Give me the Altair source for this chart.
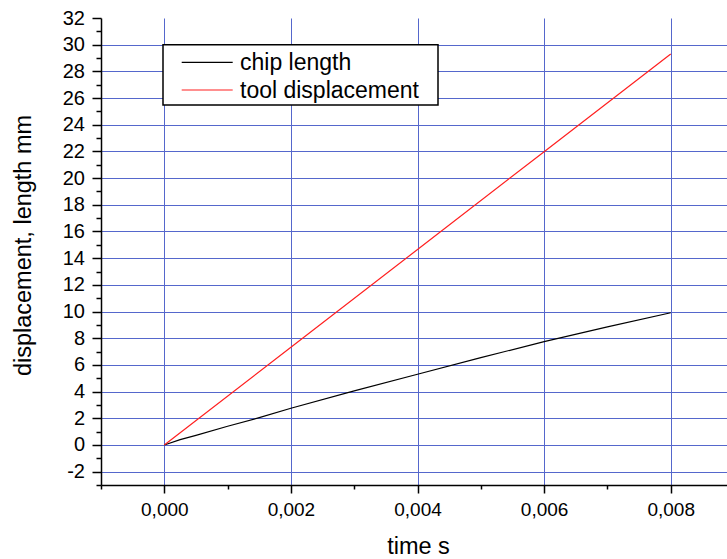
import altair as alt
import pandas as pd

# ---- data ----
chip_time = [0.0, 0.00025, 0.0005, 0.001, 0.0015, 0.002, 0.003, 0.004, 0.005, 0.006, 0.007, 0.008]
chip_len = [0.0, 0.4, 0.72, 1.4, 2.05, 2.75, 4.05, 5.3, 6.55, 7.74, 8.85, 9.91]
tool_time = [0.0, 0.002, 0.004, 0.006, 0.008]
tool_disp = [0.0, 7.33, 14.65, 21.98, 29.3]

x_major = [0.0, 0.002, 0.004, 0.006, 0.008]
x_minor = [-0.001, 0.001, 0.003, 0.005, 0.007]
y_major = list(range(-2, 33, 2))
y_minor = list(range(-3, 32, 2))

series_names = ["chip length", "tool displacement"]
series_colors = ["#000000", "#ff2020"]

FONT = "Liberation Sans"
GRID = "#5567cc"

x_scale = alt.Scale(domain=[-0.001, 0.008889], nice=False, zero=False)
y_scale = alt.Scale(domain=[-3, 32], nice=False, zero=False)

chip_df = pd.DataFrame({"t": chip_time, "v": chip_len})
tool_df = pd.DataFrame({"t": tool_time, "v": tool_disp})

x_axis_major = alt.Axis(
    orient="bottom", values=x_major,
    labelExpr="replace(format(datum.value, '.3f'), '.', ',')",
    tickSize=8, tickWidth=1.5, tickColor="black",
    domainColor="black", domainWidth=1.5,
    grid=True, gridColor=GRID, gridWidth=1,
    labelFontSize=19, labelFont=FONT, labelColor="black",
    labelBaseline="alphabetic", labelPadding=22.5, labelFlush=False,
    title="time s", titleFontSize=23.5, titleFont=FONT, titleFontWeight="normal",
    titleColor="black", titleX=317, titleY=68, titleBaseline="alphabetic",
    titleAlign="center",
)
y_axis_major = alt.Axis(
    orient="left", values=y_major,
    labelExpr="replace(format(datum.value, 'd'), '\u2212', '-')",
    tickSize=9, tickWidth=1.5, tickColor="black",
    domainColor="black", domainWidth=1.5,
    grid=True, gridColor=GRID, gridWidth=1,
    gridOpacity={"condition": {"test": "datum.value >= 32", "value": 0}, "value": 1},
    labelFontSize=20, labelFont=FONT, labelColor="black", labelPadding=7.5,
    labelFlush=False,
    title="displacement, length mm", titleFontSize=23.5, titleFont=FONT,
    titleFontWeight="normal", titleColor="black", titleAngle=270,
    titleX=-71, titleY=227, titleBaseline="alphabetic", titleAlign="center",
)
x_axis_minor = alt.Axis(
    orient="bottom", values=x_minor, labels=False, tickSize=4, tickWidth=1.5,
    tickColor="black", domain=False, grid=False, title="",
)
y_axis_minor = alt.Axis(
    orient="left", values=y_minor, labels=False, tickSize=5, tickWidth=1.5,
    tickColor="black", domain=False, grid=False, title="",
)

chip_line = alt.Chart(chip_df).mark_line(color=series_colors[0], strokeWidth=1.2).encode(
    x=alt.X("t:Q", scale=x_scale, axis=x_axis_major),
    y=alt.Y("v:Q", scale=y_scale, axis=y_axis_major),
)
tool_line = alt.Chart(tool_df).mark_line(color=series_colors[1], strokeWidth=1.2).encode(
    x=alt.X("t:Q", scale=x_scale, axis=x_axis_minor),
    y=alt.Y("v:Q", scale=y_scale, axis=y_axis_minor),
)

# ---- legend box (drawn in pixel space) ----
one = alt.Data(values=[{"k": 0}])
legend_box = alt.Chart(one).mark_rect(fill="white", stroke="black", strokeWidth=1.5).encode(
    x=alt.value(62), x2=alt.value(337), y=alt.value(26.7), y2=alt.value(87),
)
legend_layers = [legend_box]
row_y = [44.3, 72.0]
for name, col, ry in zip(series_names, series_colors, row_y):
    legend_layers.append(
        alt.Chart(one).mark_rule(color=col, strokeWidth=1.2).encode(
            x=alt.value(80.7), x2=alt.value(131.7), y=alt.value(ry)
        )
    )
    legend_layers.append(
        alt.Chart(one).mark_text(
            text=name, font=FONT, fontSize=23, color="black",
            align="left", baseline="alphabetic",
        ).encode(x=alt.value(139), y=alt.value(ry + 7.5))
    )

chart = (
    alt.layer(chip_line, tool_line, *legend_layers)
    .resolve_axis(x="independent", y="independent")
    .properties(
        width=626, height=467,
        autosize=alt.AutoSizeParams(type="none"),
        padding={"left": 101, "top": 18, "right": 0, "bottom": 74},
    )
    .configure_view(stroke="transparent")
)

chart.save("out.html", embed_options={"renderer": "svg", "actions": False})
